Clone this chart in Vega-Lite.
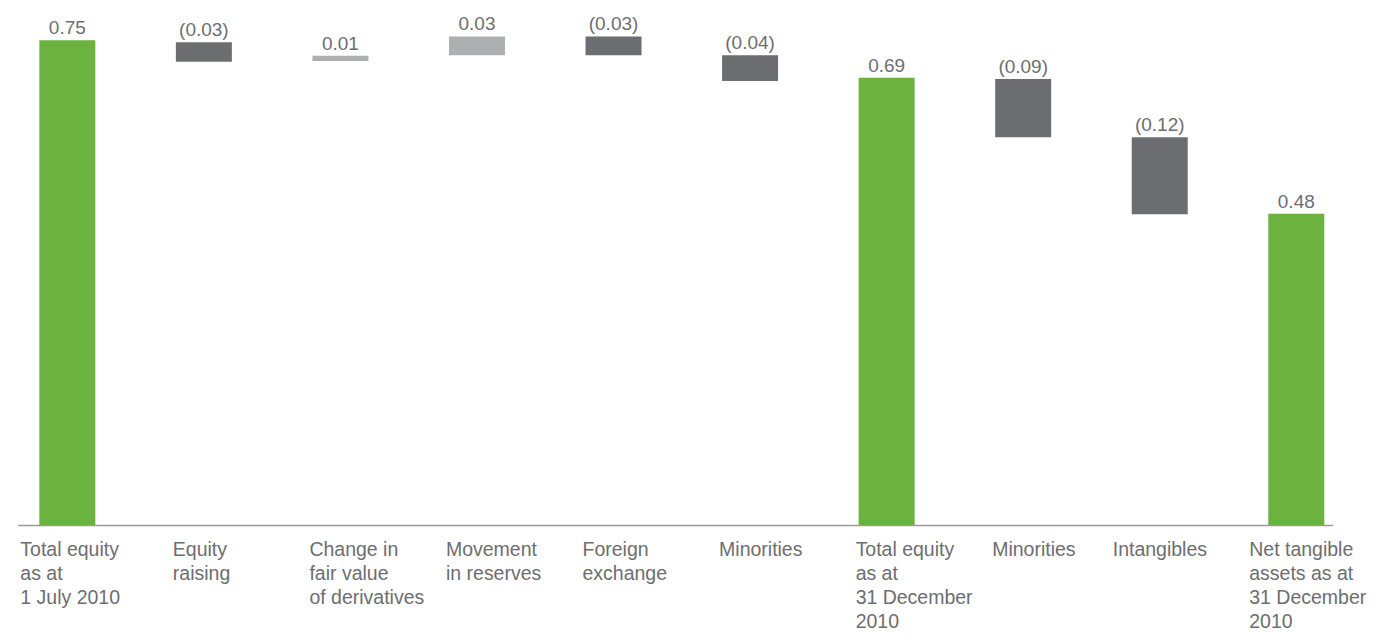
{
  "$schema": "https://vega.github.io/schema/vega-lite/v6.json",
  "width": 1315,
  "height": 517,
  "padding": {"top": 8, "left": 17.7, "right": 0, "bottom": 0},
  "autosize": {"type": "pad"},
  "background": "white",
  "config": {"view": {"stroke": null}, "font": "Liberation Sans"},
  "data": {
    "values": [
      {"step": "Total equity|as at|1 July 2010", "lo": 0, "hi": 0.75, "label": "0.75", "kind": "total"},
      {"step": "Equity|raising", "lo": 0.717, "hi": 0.747, "label": "(0.03)", "kind": "decrease"},
      {"step": "Change in|fair value|of derivatives", "lo": 0.718, "hi": 0.726, "label": "0.01", "kind": "increase"},
      {"step": "Movement|in reserves", "lo": 0.727, "hi": 0.756, "label": "0.03", "kind": "increase"},
      {"step": "Foreign|exchange", "lo": 0.727, "hi": 0.756, "label": "(0.03)", "kind": "decrease"},
      {"step": "Minorities", "lo": 0.687, "hi": 0.727, "label": "(0.04)", "kind": "decrease"},
      {"step": "Total equity|as at|31 December|2010", "lo": 0, "hi": 0.692, "label": "0.69", "kind": "total"},
      {"step": "Minorities ", "lo": 0.6, "hi": 0.69, "label": "(0.09)", "kind": "decrease"},
      {"step": "Intangibles", "lo": 0.481, "hi": 0.6, "label": "(0.12)", "kind": "decrease"},
      {"step": "Net tangible|assets as at|31 December|2010", "lo": 0, "hi": 0.4815, "label": "0.48", "kind": "total"}
    ]
  },
  "encoding": {
    "x": {
      "field": "step",
      "type": "nominal",
      "sort": null,
      "scale": {"paddingInner": 0.59, "paddingOuter": 0.11, "align": 0.72},
      "axis": {
        "title": null,
        "ticks": false,
        "domainColor": "#9a9a9a",
        "domainWidth": 1.5,
        "labelAngle": 0,
        "labelAlign": "left",
        "labelBaseline": "top",
        "labelFontSize": 19.5,
        "labelColor": "#6d6e70",
        "labelLineHeight": 24,
        "labelPadding": 16,
        "labelOffset": {"condition": {"test": "datum.index == 0 || datum.index > 0.85", "value": -47}, "value": -31},
        "labelLimit": 300,
        "labelOverlap": false,
        "labelExpr": "split(datum.label, '|')"
      }
    }
  },
  "layer": [
    {
      "mark": {"type": "bar"},
      "encoding": {
        "y": {"field": "lo", "type": "quantitative", "scale": {"domain": [0, 0.8], "nice": false}, "axis": null},
        "y2": {"field": "hi"},
        "color": {
          "field": "kind",
          "type": "nominal",
          "scale": {"domain": ["total", "decrease", "increase"], "range": ["#6bb33e", "#6b6d70", "#aeafb1"]},
          "legend": null
        }
      }
    },
    {
      "mark": {"type": "text", "baseline": "alphabetic", "dy": -6, "fontSize": 19, "color": "#6d6e70"},
      "encoding": {
        "y": {"field": "hi", "type": "quantitative"},
        "text": {"field": "label"}
      }
    }
  ]
}
